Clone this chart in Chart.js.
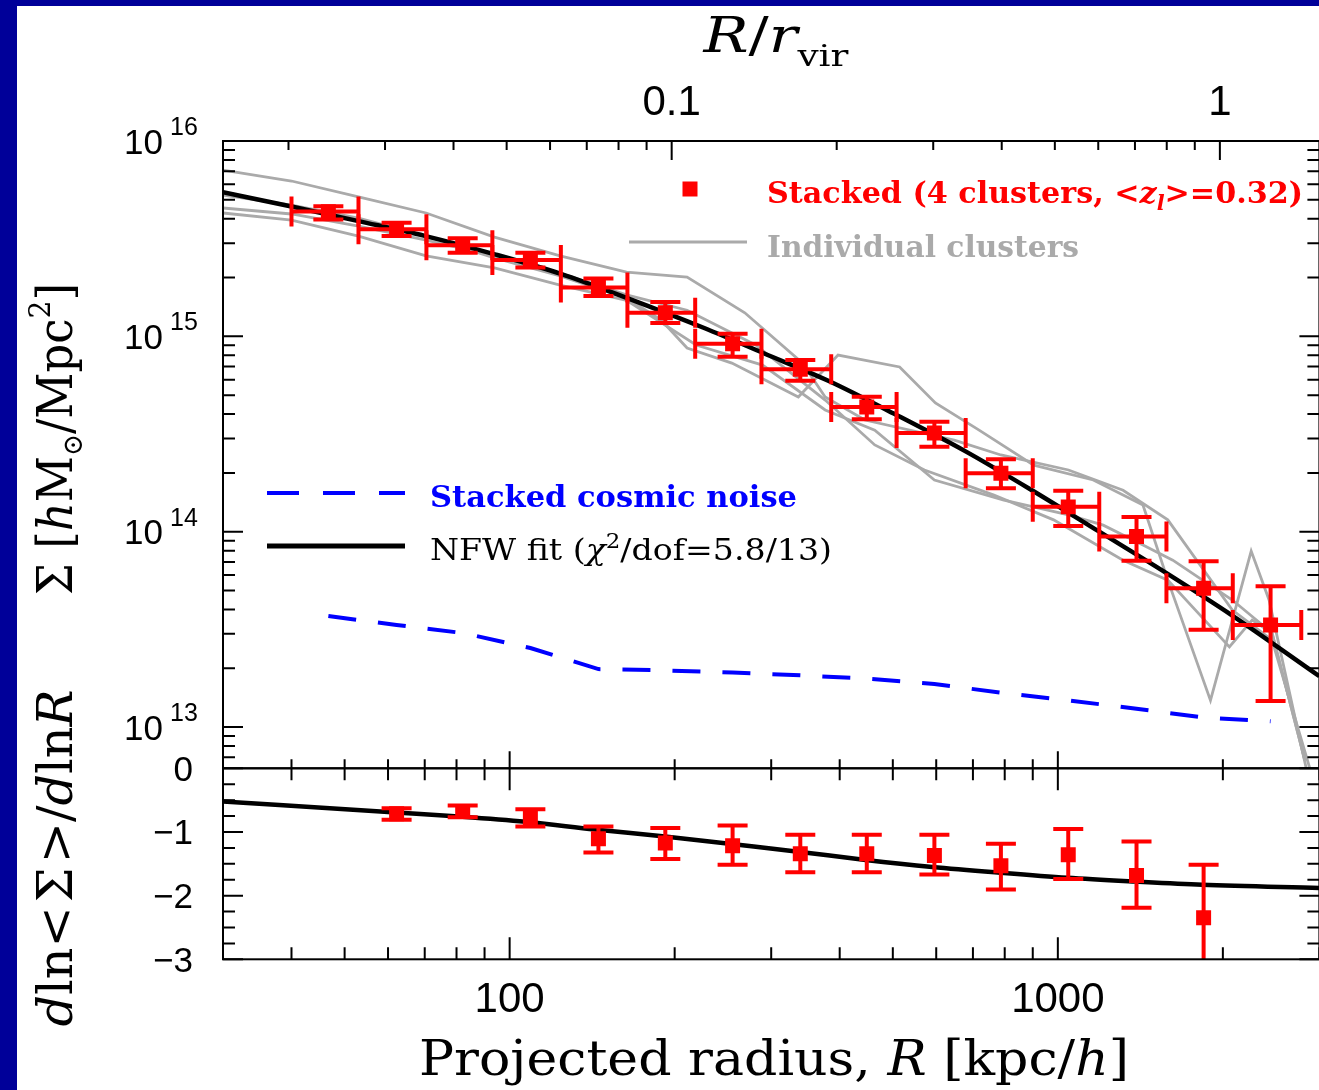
<!DOCTYPE html>
<html>
<head>
<meta charset="utf-8">
<title>Stacked lensing profile</title>
<script src="https://cdn.jsdelivr.net/npm/chart.js@4/dist/chart.umd.min.js"></script>
<style>
  html, body { margin: 0; padding: 0; overflow: hidden; background: #000099; }
  #page { position: absolute; left: 17px; top: 6px; width: 1313px; height: 1084px; background: #ffffff; }
</style>
</head>
<body>
<div id="page"><canvas id="profileChart" width="1313" height="1084"></canvas></div>
<script>
// stacked profile, R in kpc/h, Sigma in h Msun / Mpc^2
const binR    = [46.7, 62.2, 82.1, 109.1, 145.2, 192.3, 255.1, 339.0, 448.2, 595.4, 787.3, 1044.7, 1391.6, 1844.6, 2443.8];
const binLo   = [40, 53, 70.5, 93, 124, 164, 218, 288, 386, 508, 679, 900, 1190, 1578, 2085];
const binHi   = [53, 70.5, 93, 124, 164, 218, 288, 386, 508, 679, 900, 1190, 1578, 2085, 2780];
const sigma   = [4.35e15, 3.53e15, 2.93e15, 2.46e15, 1.78e15, 1.32e15, 9.17e14, 6.78e14, 4.35e14, 3.20e14, 1.99e14, 1.34e14, 9.44e13, 5.13e13, 3.33e13];
const sigmaLo = [3.97e15, 3.26e15, 2.68e15, 2.25e15, 1.61e15, 1.17e15, 7.87e14, 5.93e14, 3.76e14, 2.72e14, 1.67e14, 1.07e14, 7.11e13, 3.15e13, 1.36e13];
const sigmaHi = [4.64e15, 3.82e15, 3.18e15, 2.68e15, 1.98e15, 1.50e15, 1.03e15, 7.57e14, 4.91e14, 3.66e14, 2.35e14, 1.62e14, 1.19e14, 7.06e13, 5.25e13];

// log slope panel
const slopeR  = [62.2, 82.1, 109.1, 145.2, 192.3, 255.1, 339.0, 448.2, 595.4, 787.3, 1044.7, 1391.6, 1844.6];
const slope   = [-0.715, -0.679, -0.782, -1.106, -1.174, -1.216, -1.341, -1.341, -1.368, -1.529, -1.357, -1.685, -2.347];
const slopeLo = [-0.809, -0.767, -0.914, -1.321, -1.424, -1.513, -1.634, -1.634, -1.670, -1.905, -1.737, -2.191, -3.18];
const slopeHi = [-0.626, -0.585, -0.642, -0.914, -0.939, -0.898, -1.044, -1.044, -1.044, -1.185, -0.955, -1.149, -1.513];

// NFW fit
const nfwR     = [30, 40, 53, 70, 94, 124, 163, 227, 290, 383, 506, 680, 900, 1190, 1573, 2081, 3000];
const nfwSigma = [5.47e15, 4.62e15, 3.89e15, 3.27e15, 2.63e15, 2.09e15, 1.58e15, 1.10e15, 8.22e14, 5.89e14, 3.98e14, 2.57e14, 1.62e14, 1.0e14, 6.17e13, 3.72e13, 1.82e13];
const nfwSlopeR = [30, 61, 82, 107, 143, 192, 254, 336, 446, 590, 784, 1040, 1386, 1833, 3000];
const nfwSlope  = [-0.52, -0.69, -0.76, -0.84, -0.96, -1.07, -1.19, -1.31, -1.44, -1.55, -1.64, -1.72, -1.78, -1.83, -1.88];

// stacked cosmic noise
const noiseR     = [46.7, 62.2, 82.1, 109.1, 145.2, 192.3, 255.1, 339.0, 448.2, 595.4, 787.3, 1044.7, 1391.6, 1844.6, 2443.8];
const noiseSigma = [3.70e13, 3.33e13, 3.03e13, 2.54e13, 1.98e13, 1.95e13, 1.90e13, 1.84e13, 1.77e13, 1.66e13, 1.50e13, 1.37e13, 1.24e13, 1.12e13, 1.07e13];

// individual clusters
const g1R = [30, 40, 53, 70.4, 93.8, 123.6, 163.4, 210.7, 268.5, 342, 376.3, 444.6, 647.1, 787.3, 1045.6, 1315.2, 1587, 2081, 2459, 2906];
const g1S = [7.10e15, 6.24e15, 5.17e15, 4.28e15, 3.22e15, 2.58e15, 2.13e15, 2.01e15, 1.32e15, 7.30e14, 4.89e14, 3.73e14, 2.94e14, 2.47e14, 2.07e14, 1.63e14, 1.15e14, 3.97e13, 2.79e13, 5.67e12];
const g2R = [30, 40, 53, 70.4, 93.8, 123.6, 163.4, 189.1, 210.7, 254.3, 336.2, 397.2, 514.5, 597.9, 718.4, 903.6, 1160.5, 1429.8, 1587, 1898.5, 2252.6, 2428.3, 2869.7];
const g2S = [5.29e15, 4.70e15, 4.03e15, 3.26e15, 2.52e15, 2.04e15, 1.57e15, 1.21e15, 8.71e14, 7.30e14, 4.89e14, 8.02e14, 6.97e14, 4.56e14, 3.31e14, 2.19e14, 1.84e14, 1.37e14, 5.65e13, 1.37e13, 7.96e13, 4.47e13, 5.35e12];
const g3R = [30, 40, 53, 70.4, 93.8, 123.6, 163.4, 210.7, 281, 376.3, 463.5, 571, 764.6, 982.2, 1315.2, 1587, 2055.6, 2261.9, 2459.2, 2821.4];
const g3S = [4.54e15, 4.23e15, 3.67e15, 3.11e15, 2.58e15, 2.11e15, 1.63e15, 1.36e15, 9.03e14, 4.72e14, 2.78e14, 2.07e14, 1.54e14, 1.15e14, 7.15e13, 5.65e13, 2.57e13, 3.53e13, 3.03e13, 6.77e12];
const g4R = [30, 40, 53, 70.4, 93.8, 123.6, 163.4, 218.8, 289.3, 376.3, 463.5, 595.4, 797.2, 1045.6, 1209.9, 1429.8, 1620.6, 2081.2, 2459.2, 2821.4];
const g4S = [4.28e15, 3.94e15, 3.26e15, 2.58e15, 2.24e15, 1.83e15, 1.53e15, 9.03e14, 7.13e14, 4.20e14, 3.31e14, 1.84e14, 1.45e14, 1.22e14, 1.08e14, 8.54e13, 7.15e13, 4.47e13, 3.03e13, 6.77e12];

// axes
const rVir = 1975;
const xTicks = [100, 1000];
const xTickLabels = ['100', '1000'];
const topTicks = [0.1, 1];
const topTickLabels = ['0.1', '1'];
const sigmaExps = [13, 14, 15, 16];
const slopeTicks = [0, -1, -2, -3];
const slopeTickLabels = ['0', '\u22121', '\u22122', '\u22123'];

const RED = '#ff0000', BLUE = '#0000ff', GRAY = '#aaaaaa';
const SERIF = "'DejaVu Serif'";
const SANS = "'Liberation Sans'";

function pts(xv, yv) {
    return xv.map((x, i) => ({ x: x, y: yv[i] }));
}

function grayLine(xv, yv) {
    return { label: 'Individual', data: pts(xv, yv), yAxisID: 'y', showLine: true,
             borderColor: GRAY, borderWidth: 2.8, pointRadius: 0, order: 4 };
}

// draw a run of text pieces, optionally squeezed to a given width
function drawParts(ctx, parts, x, y, opt) {
    let w = 0;
    const ws = parts.map(p => {
        ctx.font = p.f;
        const m = ctx.measureText(p.t).width + (p.gap || 0);
        w += m;
        return m;
    });
    const sx = opt.width ? opt.width / w : 1;
    ctx.save();
    ctx.translate(x, y);
    if (opt.rotate) ctx.rotate(opt.rotate);
    ctx.scale(sx, 1);
    let cx = opt.align === 'center' ? -w / 2 : (opt.align === 'right' ? -w : 0);
    ctx.textAlign = 'left';
    ctx.textBaseline = 'alphabetic';
    ctx.fillStyle = opt.color || '#000';
    parts.forEach((p, i) => {
        ctx.font = p.f;
        ctx.fillText(p.t, cx + (p.pre || 0), p.dy || 0);
        cx += ws[i];
    });
    ctx.restore();
}

function logValues(min, max) {
    const out = [];
    for (let e = Math.floor(Math.log10(min)); e <= Math.ceil(Math.log10(max)); e++) {
        for (let m = 1; m <= 9; m++) {
            const v = m * Math.pow(10, e);
            if (v >= min * 0.9999 && v <= max * 1.0001) out.push({ v: v, major: m === 1 });
        }
    }
    return out;
}

// clip each dataset to its own panel
const panelClip = {
    id: 'panelClip',
    beforeDatasetDraw(chart, args) {
        const ys = chart.scales[args.meta.yAxisID];
        const ctx = chart.ctx;
        ctx.save();
        ctx.beginPath();
        ctx.rect(chart.chartArea.left, ys.top, chart.chartArea.width, ys.bottom - ys.top);
        ctx.clip();
    },
    afterDatasetDraw(chart) {
        chart.ctx.restore();
    }
};

const errorBars = {
    id: 'errorBars',
    afterDatasetsDraw(chart) {
        const ctx = chart.ctx;
        const xs = chart.scales.x, yt = chart.scales.y, yb = chart.scales.y2;
        const cap = 15;
        ctx.save();
        ctx.strokeStyle = RED;
        ctx.lineWidth = 4;
        // top panel
        ctx.save();
        ctx.beginPath();
        ctx.rect(xs.left, yt.top, xs.right - xs.left, yt.bottom - yt.top);
        ctx.clip();
        binR.forEach((r, i) => {
            const px = xs.getPixelForValue(r), py = yt.getPixelForValue(sigma[i]);
            const x0 = xs.getPixelForValue(binLo[i]), x1 = xs.getPixelForValue(binHi[i]);
            const y0 = yt.getPixelForValue(sigmaLo[i]), y1 = yt.getPixelForValue(sigmaHi[i]);
            ctx.beginPath();
            ctx.moveTo(x0, py); ctx.lineTo(x1, py);
            ctx.moveTo(x0, py - cap); ctx.lineTo(x0, py + cap);
            ctx.moveTo(x1, py - cap); ctx.lineTo(x1, py + cap);
            ctx.moveTo(px, y0); ctx.lineTo(px, y1);
            ctx.moveTo(px - cap, y0); ctx.lineTo(px + cap, y0);
            ctx.moveTo(px - cap, y1); ctx.lineTo(px + cap, y1);
            ctx.stroke();
        });
        ctx.restore();
        // bottom panel
        ctx.save();
        ctx.beginPath();
        ctx.rect(xs.left, yb.top, xs.right - xs.left, yb.bottom - yb.top);
        ctx.clip();
        slopeR.forEach((r, i) => {
            const px = xs.getPixelForValue(r);
            const y0 = yb.getPixelForValue(slopeLo[i]), y1 = yb.getPixelForValue(slopeHi[i]);
            ctx.beginPath();
            ctx.moveTo(px, y0); ctx.lineTo(px, y1);
            ctx.moveTo(px - cap, y0); ctx.lineTo(px + cap, y0);
            ctx.moveTo(px - cap, y1); ctx.lineTo(px + cap, y1);
            ctx.stroke();
        });
        ctx.restore();
        ctx.restore();
    }
};

const frameAndText = {
    id: 'frameAndText',
    afterDraw(chart) {
        const ctx = chart.ctx;
        const xs = chart.scales.x, yt = chart.scales.y, yb = chart.scales.y2;
        const L = xs.left, R = xs.right;
        ctx.save();
        ctx.strokeStyle = '#000';
        ctx.lineWidth = 2;

        // frames
        ctx.strokeRect(L, yt.top, R - L, yt.bottom - yt.top);
        ctx.strokeRect(L, yb.top, R - L, yb.bottom - yb.top);

        ctx.beginPath();
        // top panel: y ticks
        logValues(yt.min, yt.max).forEach(t => {
            const y = yt.getPixelForValue(t.v), len = t.major ? 20 : 12;
            ctx.moveTo(L, y); ctx.lineTo(L + len, y);
            ctx.moveTo(R, y); ctx.lineTo(R - len, y);
        });
        // R ticks on both panels
        logValues(xs.min, xs.max).forEach(t => {
            const x = xs.getPixelForValue(t.v);
            const lenT = t.major ? 17 : 9, lenB = t.major ? 22 : 12;
            ctx.moveTo(x, yt.bottom); ctx.lineTo(x, yt.bottom - lenT);
            ctx.moveTo(x, yb.top); ctx.lineTo(x, yb.top + lenB);
            ctx.moveTo(x, yb.bottom); ctx.lineTo(x, yb.bottom - lenB);
        });
        // R/r_vir ticks on top edge
        logValues(xs.min / rVir, xs.max / rVir).forEach(t => {
            const x = xs.getPixelForValue(t.v * rVir), len = t.major ? 19 : 9;
            ctx.moveTo(x, yt.top); ctx.lineTo(x, yt.top + len);
        });
        // slope ticks
        for (let k = 0; k <= 12; k++) {
            const v = -k * 0.25, y = yb.getPixelForValue(v), len = (k % 4 === 0) ? 20 : 12;
            ctx.moveTo(L, y); ctx.lineTo(L + len, y);
            ctx.moveTo(R, y); ctx.lineTo(R - len, y);
        }
        ctx.stroke();

        // tick labels
        ctx.fillStyle = '#000';
        ctx.textBaseline = 'alphabetic';
        ctx.font = '42px ' + SANS;
        ctx.textAlign = 'center';
        xTicks.forEach((v, i) => ctx.fillText(xTickLabels[i], xs.getPixelForValue(v), 1006));
        topTicks.forEach((v, i) => ctx.fillText(topTickLabels[i], xs.getPixelForValue(v * rVir), 109));

        sigmaExps.forEach(e => {
            const y = yt.getPixelForValue(Math.pow(10, e));
            ctx.font = '35px ' + SANS;
            ctx.textAlign = 'right';
            ctx.fillText('10', 146, y + 12.5);
            ctx.font = '25px ' + SANS;
            ctx.textAlign = 'left';
            ctx.fillText(String(e), 153, y - 6);
        });
        ctx.font = '35px ' + SANS;
        ctx.textAlign = 'right';
        slopeTicks.forEach((v, i) => ctx.fillText(slopeTickLabels[i], 176, yb.getPixelForValue(v) + 12.5));

        // axis titles
        const f48 = '48px ' + SERIF, i48 = 'italic 48px ' + SERIF;
        drawParts(ctx, [
            { t: 'R', f: i48 }, { t: '/', f: f48 }, { t: 'r', f: i48 }, { t: 'vir', f: '30px ' + SERIF, dy: 14 }
        ], 759, 46, { align: 'center', width: 145 });
        drawParts(ctx, [
            { t: 'Projected radius, ', f: f48 }, { t: 'R', f: i48 }, { t: ' [kpc/', f: f48 },
            { t: 'h', f: i48 }, { t: ']', f: f48 }
        ], 757, 1069, { align: 'center', width: 710 });
        drawParts(ctx, [
            { t: '\u03a3 [', f: f48 }, { t: 'h', f: i48 }, { t: 'M', f: f48 },
            { t: '\u2299', f: '28px ' + SERIF, dy: 10 }, { t: '/Mpc', f: f48 },
            { t: '2', f: '30px ' + SERIF, dy: -22 }, { t: ']', f: f48 }
        ], 55, 433, { align: 'center', width: 312, rotate: -Math.PI / 2 });
        drawParts(ctx, [
            { t: 'd', f: i48 }, { t: 'ln', f: f48 }, { t: '<', f: f48, gap: 4 }, { t: '\u03a3', f: f48 },
            { t: '>', f: f48, pre: 4, gap: 4 }, { t: '/', f: f48 }, { t: 'd', f: i48 }, { t: 'ln', f: f48 },
            { t: 'R', f: i48 }
        ], 55, 852, { align: 'center', width: 337, rotate: -Math.PI / 2 });

        // legend
        const b28 = 'bold 29px ' + SERIF, r28 = '29px ' + SERIF;
        ctx.fillStyle = RED;
        ctx.fillRect(673 - 7.5, 183 - 7.5, 15, 15);
        drawParts(ctx, [
            { t: 'Stacked (4 clusters, <', f: b28 }, { t: 'z', f: 'bold italic 29px ' + SERIF },
            { t: 'l', f: 'bold italic 20px ' + SERIF, dy: 7 }, { t: '>=0.32)', f: b28 }
        ], 750, 197, { width: 536, color: RED });

        ctx.strokeStyle = GRAY;
        ctx.lineWidth = 2.8;
        ctx.beginPath(); ctx.moveTo(612, 236); ctx.lineTo(730, 236); ctx.stroke();
        drawParts(ctx, [{ t: 'Individual clusters', f: b28 }], 750, 251, { width: 312, color: GRAY });

        ctx.strokeStyle = BLUE;
        ctx.lineWidth = 4;
        ctx.setLineDash([32, 24]);
        ctx.beginPath(); ctx.moveTo(250, 487); ctx.lineTo(388, 487); ctx.stroke();
        ctx.setLineDash([]);
        drawParts(ctx, [{ t: 'Stacked cosmic noise', f: b28 }], 413, 501, { width: 367, color: BLUE });

        ctx.strokeStyle = '#000';
        ctx.lineWidth = 5;
        ctx.beginPath(); ctx.moveTo(250, 540); ctx.lineTo(388, 540); ctx.stroke();
        drawParts(ctx, [
            { t: 'NFW fit (', f: r28 }, { t: '\u03c7', f: 'italic 29px ' + SERIF },
            { t: '2', f: '20px ' + SERIF, dy: -12 }, { t: '/dof=5.8/13)', f: r28 }
        ], 413, 554, { width: 402, color: '#000' });

        ctx.restore();
    }
};

new Chart(document.getElementById('profileChart'), {
    type: 'scatter',
    data: {
        datasets: [
            { label: 'Stacked', data: pts(binR, sigma), yAxisID: 'y', pointStyle: 'rect',
              pointRadius: 10.6, backgroundColor: RED, borderWidth: 0, order: 0 },
            { label: 'Slope', data: pts(slopeR, slope), yAxisID: 'y2', pointStyle: 'rect',
              pointRadius: 10.6, backgroundColor: RED, borderWidth: 0, order: 0 },
            { label: 'NFW fit', data: pts(nfwR, nfwSigma), yAxisID: 'y', showLine: true,
              borderColor: '#000', borderWidth: 4.5, pointRadius: 0, cubicInterpolationMode: 'monotone', order: 1 },
            { label: 'NFW slope', data: pts(nfwSlopeR, nfwSlope), yAxisID: 'y2', showLine: true,
              borderColor: '#000', borderWidth: 4.5, pointRadius: 0, cubicInterpolationMode: 'monotone', order: 1 },
            { label: 'Stacked cosmic noise', data: pts(noiseR, noiseSigma), yAxisID: 'y', showLine: true,
              borderColor: BLUE, borderWidth: 4, borderDash: [28, 22], pointRadius: 0, order: 2 },
            grayLine(g1R, g1S),
            grayLine(g2R, g2S),
            grayLine(g3R, g3S),
            grayLine(g4R, g4S)
        ]
    },
    options: {
        responsive: false,
        devicePixelRatio: 1,
        animation: false,
        events: [],
        layout: { padding: { left: 206, top: 135, right: 2.3, bottom: 130.7 } },
        plugins: { legend: { display: false }, tooltip: { enabled: false } },
        scales: {
            x: { type: 'logarithmic', min: 30, max: 3000, display: false },
            y: { type: 'logarithmic', min: 6.15e12, max: 1e16, display: false, position: 'left',
                 stack: 'panels', stackWeight: 627.3, weight: 1 },
            y2: { type: 'linear', min: -3, max: 0, display: false, position: 'left',
                  stack: 'panels', stackWeight: 191, weight: 0 }
        }
    },
    plugins: [panelClip, errorBars, frameAndText]
});
</script>
</body>
</html>
